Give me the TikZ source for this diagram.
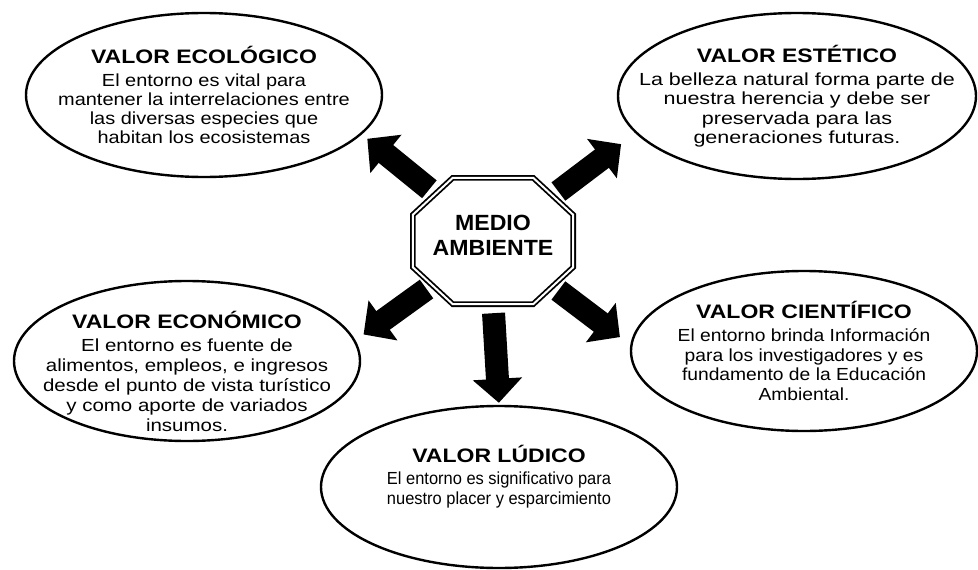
\documentclass[tikz,border=0pt]{standalone}
\usepackage{fontspec}
\setmainfont{Liberation Sans}
\usepackage{tikz}
\usetikzlibrary{arrows.meta,shapes.geometric,positioning}
\newcommand{\titulo}{\fontsize{19.5}{22}\selectfont\bfseries\addfontfeatures{FakeStretch=1.18}}
\newcommand{\cuerpo}[2]{\fontsize{17.5}{#2}\selectfont\addfontfeatures{FakeStretch=#1}}
\tikzset{%
	valor/.style    = {draw, ellipse, line width=2.4pt, align=center, inner xsep=-200pt, inner ysep=-100pt}, % value ellipse
	medionode/.style = {rectangle, minimum width=160pt, minimum height=126pt, align=center, text depth=12pt,
		font=\fontsize{22}{25}\selectfont\bfseries\addfontfeatures{FakeStretch=1.05}},
	octagon/.style  = {draw, line width=1.8pt, double=white, double distance=2pt, line join=miter},
	bigarrow/.style = {line width=23pt, -{Triangle[width=48pt,length=24pt]}},
}
\begin{document}
\begin{tikzpicture}[x=1pt,y=-1pt]
	\useasboundingbox (0,0) rectangle (978,570);
	\node[medionode] (medio) at (493,241) {MEDIO\\AMBIENTE};
	\draw[octagon] ([xshift=40pt]medio.north west) -- ([xshift=-40pt]medio.north east)
		-- ([yshift=-37pt]medio.north east) -- ([yshift=37pt]medio.south east)
		-- ([xshift=-40pt]medio.south east) -- ([xshift=40pt]medio.south west)
		-- ([yshift=37pt]medio.south west) -- ([yshift=-37pt]medio.north west) -- cycle;

	\node[valor, minimum width=356pt, minimum height=164pt, font=\cuerpo{1.14}{19}] (eco) at (204,95)
		{{\titulo VALOR ECOLÓGICO}\\[4pt] El entorno es vital para\\mantener la interrelaciones entre\\las diversas especies que\\habitan los ecosistemas};
	\node[valor, minimum width=358pt, minimum height=166pt, font=\cuerpo{1.23}{19.5}] (est) at (797,96)
		{{\titulo VALOR ESTÉTICO}\\[3.5pt] La belleza natural forma parte de\\nuestra herencia y debe ser\\preservada para las\\generaciones futuras.};
	\node[valor, minimum width=346pt, minimum height=160pt, font=\cuerpo{1.17}{20}, text height=141pt] (econ) at (187,361)
		{{\titulo VALOR ECONÓMICO}\\[3pt] El entorno es fuente de\\alimentos, empleos, e ingresos\\desde el punto de vista turístico\\y como aporte de variados\\insumos.};
	\node[valor, minimum width=346pt, minimum height=160pt, font=\cuerpo{1.10}{19.5}] (cie) at (804,351)
		{{\titulo VALOR CIENTÍFICO}\\[3.5pt] El entorno brinda Información\\para los investigadores y es\\fundamento de la Educación\\Ambiental.};
	\node[valor, minimum width=356pt, minimum height=162pt, font=\cuerpo{0.94}{20}, text depth=25pt] (lud) at (499,487)
		{{\titulo VALOR LÚDICO}\\[2pt] El entorno es significativo para\\nuestro placer y esparcimiento};

	\draw[bigarrow, shorten <=82pt, shorten >=7pt] (medio.center) -- (eco.-14);
	\draw[bigarrow, shorten <=82pt, shorten >=18pt] (medio.center) -- (est.193);
	\draw[bigarrow, shorten <=82pt, shorten >=10pt] (medio.center) -- (econ.7);
	\draw[bigarrow, shorten <=82pt, shorten >=13pt] (medio.center) -- (cie.178);
	\draw[bigarrow, shorten <=9pt, shorten >=2pt] (medio.south) -- (lud.north);
\end{tikzpicture}
\end{document}
